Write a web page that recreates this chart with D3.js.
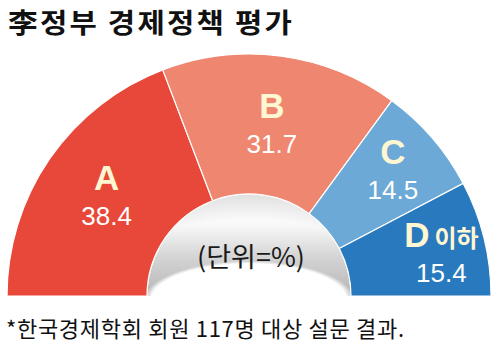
<!DOCTYPE html>
<html>
<head>
<meta charset="utf-8">
<script src="https://cdn.jsdelivr.net/npm/d3@7"></script>
<style>
  html, body { margin: 0; padding: 0; background: #fff; }
  svg { display: block; }
</style>
</head>
<body>
<svg id="chart" width="500" height="346"></svg>
<script>
// Survey grades and their shares (%)
const grades = ["A", "B", "C", "D"];
const gradeSuffix = ["", "", "", "이하"];
const shares = [38.4, 31.7, 14.5, 15.4];
const colors = ["#E8483A", "#EE8670", "#6CA9D6", "#2879BE"];

const title = "李정부 경제정책 평가";
const unitLabel = "(단위=%)";
const footnote = "*한국경제학회 회원 117명 대상 설문 결과.";

const svg = d3.select("#chart");
const cx = 249, cy = 296;
const outerR = 242, innerR = 102;

const KR = "'Noto Sans CJK KR', 'Noto Sans', sans-serif";
const LAT = "'Liberation Sans', Arial, sans-serif";

// Title (slightly widened lettering)
svg.append("text")
  .attr("transform", "translate(8,33) scale(1.1,1)")
  .attr("font-family", KR)
  .attr("font-weight", 700)
  .attr("font-size", 27)
  .attr("letter-spacing", 2)
  .attr("fill", "#111")
  .text(title);

// Half-donut layout: -90deg (left) to +90deg (right)
const pie = d3.pie()
  .sort(null)
  .value(d => d)
  .startAngle(-Math.PI / 2)
  .endAngle(Math.PI / 2);

const arcs = pie(shares);
const arc = d3.arc().innerRadius(innerR).outerRadius(outerR);

const g = svg.append("g").attr("transform", `translate(${cx},${cy})`);

g.selectAll("path.slice")
  .data(arcs)
  .join("path")
  .attr("class", "slice")
  .attr("d", arc)
  .attr("fill", (d, i) => colors[i])
  .attr("stroke", "#fff")
  .attr("stroke-width", 1.2);

// Shaded dome in the hole
const defs = svg.append("defs");
const lg = defs.append("linearGradient")
  .attr("id", "domeFill").attr("x1", 0).attr("y1", 0).attr("x2", 0).attr("y2", 1);
lg.append("stop").attr("offset", "0%").attr("stop-color", "#ffffff");
lg.append("stop").attr("offset", "30%").attr("stop-color", "#f9f9f9");
lg.append("stop").attr("offset", "62%").attr("stop-color", "#d4d4d4");
lg.append("stop").attr("offset", "100%").attr("stop-color", "#b6b6b6");

const rg = defs.append("radialGradient")
  .attr("id", "domeEdge")
  .attr("cx", "50%").attr("cy", "100%").attr("r", "100%")
  .attr("fx", "50%").attr("fy", "100%");
rg.append("stop").attr("offset", "75%").attr("stop-color", "#000").attr("stop-opacity", 0);
rg.append("stop").attr("offset", "100%").attr("stop-color", "#000").attr("stop-opacity", 0.12);

const ellGrad = defs.append("radialGradient")
  .attr("id", "domeBase").attr("cx", "50%").attr("cy", "50%").attr("r", "50%");
ellGrad.append("stop").attr("offset", "93%").attr("stop-color", "#fff");
ellGrad.append("stop").attr("offset", "100%").attr("stop-color", "#fff").attr("stop-opacity", 0);

const dome = d3.arc().innerRadius(0).outerRadius(innerR - 0.5)
  .startAngle(-Math.PI / 2).endAngle(Math.PI / 2);

defs.append("clipPath").attr("id", "domeClip")
  .append("path").attr("d", dome()).attr("transform", `translate(${cx},${cy})`);

const domeG = svg.append("g").attr("clip-path", "url(#domeClip)");
domeG.append("path").attr("d", dome()).attr("transform", `translate(${cx},${cy})`)
  .attr("fill", "url(#domeFill)");
domeG.append("path").attr("d", dome()).attr("transform", `translate(${cx},${cy})`)
  .attr("fill", "url(#domeEdge)");
domeG.append("ellipse")
  .attr("cx", cx).attr("cy", cy + 4)
  .attr("rx", innerR + 3).attr("ry", 39)
  .attr("fill", "url(#domeBase)");

svg.append("text")
  .attr("x", cx + 2).attr("y", cy - 29)
  .attr("text-anchor", "middle")
  .attr("font-family", KR)
  .attr("font-size", 27)
  .attr("fill", "#1a1a1a")
  .text(unitLabel);

// Slice labels placed along each slice's mid-angle, with small nudges
const labelR = [173, 172, 190, 192];
const nudge = [[0, 0], [0, 0], [0, 0], [6, 5]];
const labels = g.selectAll("g.lbl")
  .data(arcs)
  .join("g")
  .attr("class", "lbl")
  .attr("transform", (d, i) => {
    const a = (d.startAngle + d.endAngle) / 2;
    const x = labelR[i] * Math.sin(a) + nudge[i][0];
    const y = -labelR[i] * Math.cos(a) + nudge[i][1];
    return `translate(${x},${y})`;
  });

labels.append("text")
  .attr("y", -8)
  .attr("text-anchor", "middle")
  .attr("font-family", LAT)
  .attr("font-weight", 700)
  .attr("font-size", 35)
  .attr("fill", "#FFF6D2")
  .each(function(d, i) {
    const t = d3.select(this);
    t.append("tspan").text(grades[i]);
    if (gradeSuffix[i]) {
      t.append("tspan")
        .attr("font-family", KR)
        .attr("font-size", 24)
        .attr("dx", 5)
        .text(gradeSuffix[i]);
    }
  });

labels.append("text")
  .attr("y", 27)
  .attr("text-anchor", "middle")
  .attr("font-family", LAT)
  .attr("font-size", 26)
  .attr("fill", "#fff")
  .text(d => d.data.toFixed(1));

// Footnote
svg.append("text")
  .attr("x", 6).attr("y", 337)
  .attr("font-family", KR)
  .attr("font-size", 22)
  .attr("letter-spacing", 0.7)
  .attr("fill", "#111")
  .text(footnote);
</script>
</body>
</html>
